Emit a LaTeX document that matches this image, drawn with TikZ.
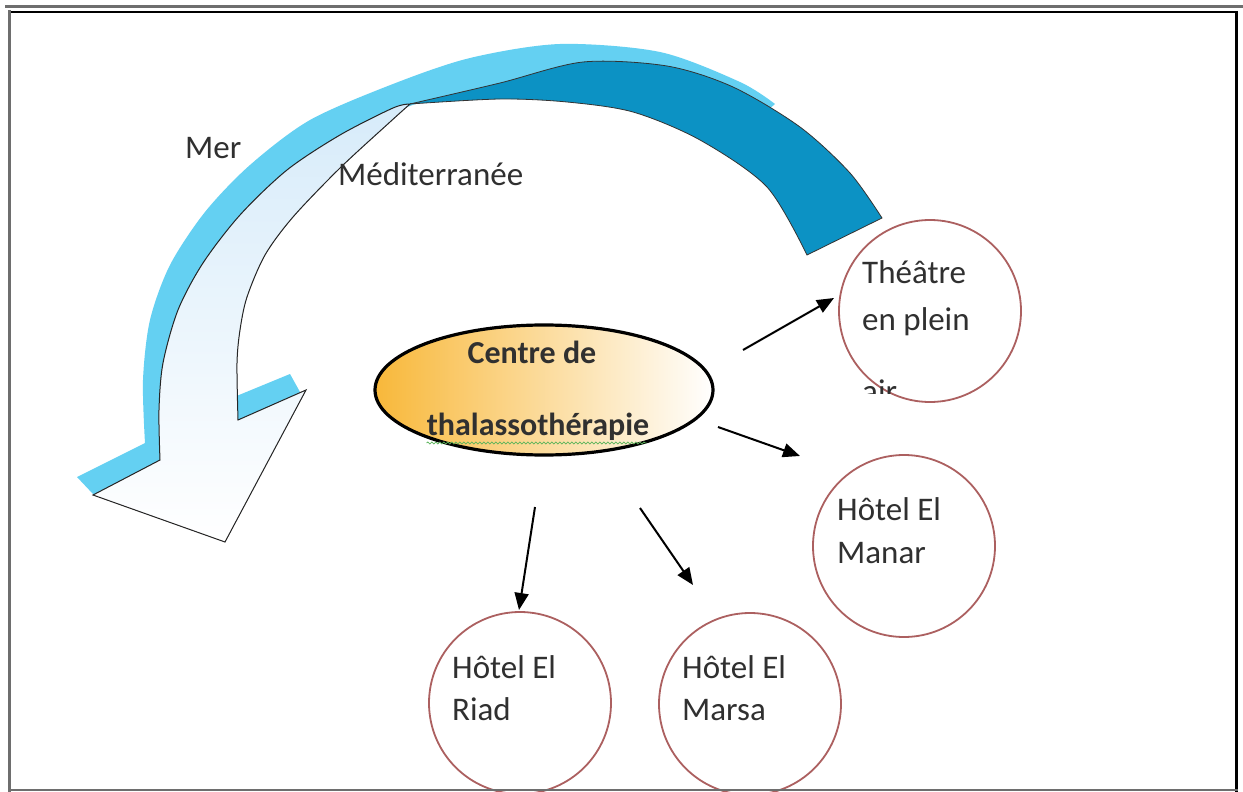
\documentclass[tikz,border=0pt]{standalone}
\usepackage{fontspec}
\setmainfont{Carlito}
\usetikzlibrary{shapes.geometric,arrows.meta,decorations.pathmorphing}
\definecolor{shadowblue}{RGB}{100,208,242}
\definecolor{bandblue}{RGB}{12,146,196}
\definecolor{frontblue}{RGB}{188,222,246}
\definecolor{ellorange}{RGB}{248,184,58}
\definecolor{circred}{RGB}{172,96,96}
\definecolor{txt}{RGB}{48,48,48}
\definecolor{framegray}{RGB}{110,110,110}
\definecolor{squig}{RGB}{90,180,90}
\begin{document}
\begin{tikzpicture}[x=1pt,y=-1pt,
  lbl/.style={anchor=base west,inner sep=0pt,text=txt,font=\fontsize{33}{40}\selectfont},
  blbl/.style={anchor=base,inner sep=0pt,text=txt,font=\fontsize{32}{38}\selectfont\bfseries},
  circ/.style={circle,draw=circred,line width=1.8pt,minimum size=182pt,inner sep=0pt},
  conn/.style={line width=2pt,-{Triangle[length=17pt,width=14pt]}}]
\useasboundingbox (0,0) rectangle (1243,792);
\clip (0,0) rectangle (1243,792);
\fill[white] (0,0) rectangle (1243,792);

% shadow of the curved arrow
\fill[shadowblue] plot[smooth] coordinates {(775,104) (740,82) (660,52) (560,44) (470,58) (393,84) (310,120) (250,165) (205,212) (170,265) (150,320) (143,380) (145,443)}
  -- (77,477) -- (93,494) -- (170,500) -- (300,392) -- (290,374) -- (222,402)
  -- plot[smooth] coordinates {(222,402) (224,330) (260,240) (350,140) (430,100) (560,90) (633,100) (720,135) (775,104)} -- cycle;

% back (dark) band
\filldraw[fill=bandblue,draw=black!80,line width=0.8pt]
  plot[smooth] coordinates {(410,104) (500,83) (583,62) (667,66) (733,87) (800,127) (850,173) (882,218)}
  -- (807,255)
  -- plot[smooth] coordinates {(807,255) (767,187) (700,140) (633,112) (567,102) (500,99) (410,104)} -- cycle;

% front face with arrow head
\filldraw[draw=black!85,line width=1pt,top color=frontblue!60,middle color=frontblue,bottom color=white]
  plot[smooth] coordinates {(410,104) (393,108) (340,135) (287,170) (240,215) (203,263) (178,310) (163,363) (159,410) (160,460)}
  -- (93,495) -- (225,542) -- (306,390) -- (238,420)
  -- plot[smooth] coordinates {(238,420) (237,363) (240,330) (247,297) (265,255) (293,217) (340,168) (390,122) (410,104)} -- cycle;

\node[lbl] (mer) at (185,158) {Mer};
\node[lbl] (med) at (338,185) {Méditerranée};

% central ellipse
\node[ellipse,draw=black,line width=3.2pt,minimum width=338pt,minimum height=130pt,
      left color=ellorange,right color=white] (cen) at (544,390) {};
\node[blbl] (c1) at (532,363) {Centre de};
\node[blbl] (c2) at (538,435) {thalassothérapie};
\draw[squig,line width=0.8pt,decorate,decoration={snake,amplitude=1pt,segment length=4pt}] (c2.base west) ++(0,8) -- ++(220,0);

% circles
\node[circ] (theatre) at (930,311) {};
\node[circ] (manar) at (904,546) {};
\node[circ] (riad) at (520,703) {};
\node[circ] (marsa) at (750,704) {};

\node[lbl] (t1) at (862,283) {Théâtre};
\node[lbl] (t2) at (862,330) {en plein};
\begin{scope}
  \clip (850,378) rectangle (930,393);
  \node[lbl] (t3) at (862,402) {air};
\end{scope}
\node[lbl] (m1) at (837,520) {Hôtel El};
\node[lbl] (m2) at (837,563) {Manar};
\node[lbl] (r1) at (452,678) {Hôtel El};
\node[lbl] (r2) at (452,720) {Riad};
\node[lbl] (s1) at (682,678) {Hôtel El};
\node[lbl] (s2) at (682,720) {Marsa};

% connectors
\coordinate (a1s) at (743,350); \coordinate (a1e) at (834,298);
\coordinate (a2s) at (718,427); \coordinate (a2e) at (800,456);
\coordinate (a3s) at (535,507); \coordinate (a3e) at (519,610);
\coordinate (a4s) at (640,508); \coordinate (a4e) at (693,585);
\draw[conn] (a1s) -- (a1e);
\draw[conn] (a2s) -- (a2e);
\draw[conn] (a3s) -- (a3e);
\draw[conn] (a4s) -- (a4e);

% frame
\draw[framegray,line width=3pt] (5,6.5) -- (1243,6.5);
\draw[black,line width=2.5pt] (10,12) -- (1238,12);
\draw[framegray,line width=3pt] (9.5,10) -- (9.5,792);
\draw[black,line width=3pt] (1236,11) -- (1236,792);
\draw[framegray,line width=2pt] (9,790) -- (1238,790);
\end{tikzpicture}
\end{document}
